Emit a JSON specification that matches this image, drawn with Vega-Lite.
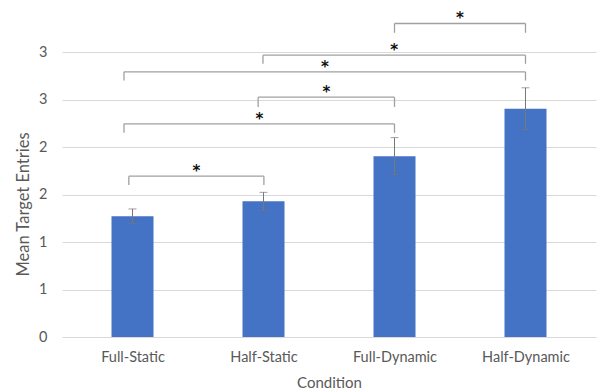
{
  "$schema": "https://vega.github.io/schema/vega-lite/v6.json",
  "width": 534,
  "height": 332,
  "autosize": "none",
  "padding": {"left": 62, "top": 5, "right": 1, "bottom": 55},
  "background": "white",
  "config": {
    "view": {"stroke": null},
    "font": "Lato",
    "axis": {"labelColor": "#595959", "titleColor": "#595959", "labelFont": "Lato", "titleFont": "Lato", "titleFontWeight": "normal"}
  },
  "datasets": {
    "bars": [
      {"pos": 0, "condition": "Full-Static", "mean": 1.272, "low": 1.198, "high": 1.35},
      {"pos": 1, "condition": "Half-Static", "mean": 1.43, "low": 1.332, "high": 1.525},
      {"pos": 2, "condition": "Full-Dynamic", "mean": 1.905, "low": 1.715, "high": 2.102},
      {"pos": 3, "condition": "Half-Dynamic", "mean": 2.405, "low": 2.187, "high": 2.627}
    ],
    "brackets": [
      {"from": -0.028, "to": 1.003, "mid": 0.488, "y": 1.695, "tip": 1.603, "label": "*"},
      {"from": -0.065, "to": 2.0, "mid": 0.968, "y": 2.247, "tip": 2.152, "label": "*"},
      {"from": 0.959, "to": 2.0, "mid": 1.48, "y": 2.528, "tip": 2.426, "label": "*"},
      {"from": -0.065, "to": 3.0, "mid": 1.468, "y": 2.795, "tip": 2.704, "label": "*"},
      {"from": 0.996, "to": 3.0, "mid": 1.998, "y": 2.971, "tip": 2.88, "label": "*"},
      {"from": 2.0, "to": 3.0, "mid": 2.5, "y": 3.305, "tip": 3.207, "label": "*"}
    ]
  },
  "layer": [
    {
      "data": {"name": "bars"},
      "mark": {"type": "bar", "size": 42, "color": "#4472C4"},
      "encoding": {
        "x": {
          "field": "pos", "type": "quantitative",
          "scale": {"domain": [-0.5, 3.5], "nice": false, "zero": false},
          "axis": {
            "title": "Condition", "values": [0, 1, 2, 3],
            "labelExpr": "['Full-Static','Half-Static','Full-Dynamic','Half-Dynamic'][datum.value]",
            "grid": false, "domain": false, "ticks": false,
            "labelFontSize": 14.5, "labelPadding": 13, "titleFontSize": 15, "titlePadding": 12
          }
        },
        "y": {
          "field": "mean", "type": "quantitative",
          "scale": {"domain": [0, 3.5], "nice": false},
          "axis": {
            "title": "Mean Target Entries", "values": [0, 0.5, 1, 1.5, 2, 2.5, 3],
            "labelExpr": "toString(round(datum.value))",
            "grid": true, "gridColor": "#d9d9d9", "domain": false, "ticks": false,
            "labelFontSize": 14.5, "labelPadding": 15, "titleFontSize": 16.5, "titlePadding": 7, "titleY": 199
          }
        }
      }
    },
    {
      "data": {"name": "bars"},
      "mark": {"type": "rule", "color": "#777777", "strokeWidth": 1},
      "encoding": {
        "x": {"field": "pos", "type": "quantitative"},
        "y": {"field": "low", "type": "quantitative"},
        "y2": {"field": "high"}
      }
    },
    {
      "data": {"name": "bars"},
      "mark": {"type": "tick", "color": "#777777", "size": 8, "thickness": 1, "orient": "horizontal"},
      "encoding": {
        "x": {"field": "pos", "type": "quantitative"},
        "y": {"field": "low", "type": "quantitative"}
      }
    },
    {
      "data": {"name": "bars"},
      "mark": {"type": "tick", "color": "#777777", "size": 8, "thickness": 1, "orient": "horizontal"},
      "encoding": {
        "x": {"field": "pos", "type": "quantitative"},
        "y": {"field": "high", "type": "quantitative"}
      }
    },
    {
      "data": {"name": "brackets"},
      "mark": {"type": "rule", "color": "#a0a0a0", "strokeWidth": 1.3},
      "encoding": {
        "x": {"field": "from", "type": "quantitative"},
        "x2": {"field": "to"},
        "y": {"field": "y", "type": "quantitative"}
      }
    },
    {
      "data": {"name": "brackets"},
      "mark": {"type": "rule", "color": "#a0a0a0", "strokeWidth": 1.3},
      "encoding": {
        "x": {"field": "from", "type": "quantitative"},
        "y": {"field": "y", "type": "quantitative"},
        "y2": {"field": "tip"}
      }
    },
    {
      "data": {"name": "brackets"},
      "mark": {"type": "rule", "color": "#a0a0a0", "strokeWidth": 1.3},
      "encoding": {
        "x": {"field": "to", "type": "quantitative"},
        "y": {"field": "y", "type": "quantitative"},
        "y2": {"field": "tip"}
      }
    },
    {
      "data": {"name": "brackets"},
      "mark": {"type": "text", "fontSize": 15, "fontWeight": "bold", "color": "#111111", "baseline": "alphabetic", "dy": 0, "font": "DejaVu Sans"},
      "encoding": {
        "x": {"field": "mid", "type": "quantitative"},
        "y": {"field": "y", "type": "quantitative"},
        "text": {"field": "label"}
      }
    }
  ]
}
